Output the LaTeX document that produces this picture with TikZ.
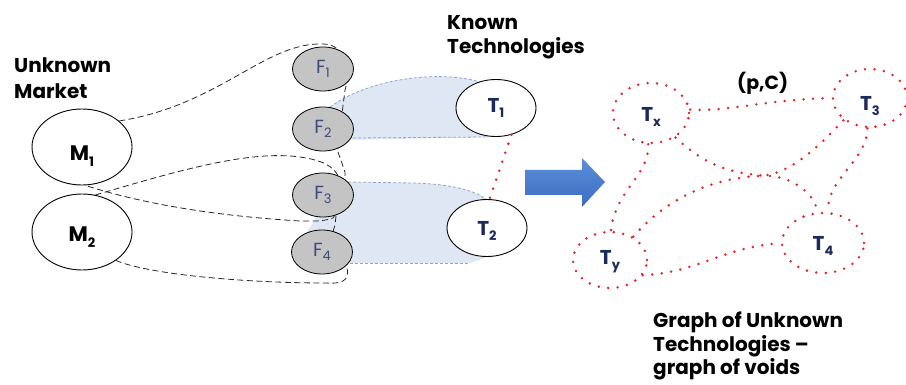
\documentclass[tikz,border=0pt]{standalone}
\usepackage{fontspec}
\setmainfont{Poppins}
\usetikzlibrary{shapes.geometric}
\definecolor{lanefill}{HTML}{DFE7F4}
\definecolor{laneline}{HTML}{8EA6CF}
\definecolor{fgray}{HTML}{C4C4C4}
\definecolor{ftext}{HTML}{3C4A7D}
\definecolor{tnavy}{HTML}{1B2A5C}
\definecolor{dotred}{HTML}{E3262B}
\definecolor{arrowtop}{HTML}{5B8FDB}
\definecolor{arrowbot}{HTML}{3C6CBF}
\newcommand\lsub[1]{\raisebox{-0.45ex}{\fontsize{13}{13}\selectfont #1}}
\newcommand\labdown[2]{\raisebox{-#1}[\height][\depth]{#2}}
\begin{document}
\begin{tikzpicture}[x=1pt,y=-1pt,
  mnode/.style={ellipse, draw, line width=0.9pt, fill=white, minimum width=100pt, minimum height=76pt, inner sep=0pt, font=\fontsize{21}{22}\selectfont\bfseries},
  fnode/.style={ellipse, draw, line width=0.8pt, fill=fgray, minimum width=61pt, minimum height=44pt, inner sep=0pt, text=ftext, font=\fontsize{19}{20}\selectfont},
  tnode/.style={ellipse, draw, line width=0.9pt, fill=white, minimum width=80pt, minimum height=57pt, inner sep=0pt, text=tnavy, font=\fontsize{20}{22}\selectfont\bfseries},
  reddot/.style={draw=dotred, line width=2.8pt, line cap=round, dash pattern=on 0pt off 9.5pt},
  vnode/.style={ellipse, reddot, inner sep=0pt, text=tnavy, font=\fontsize{20}{22}\selectfont\bfseries},
  mk/.style={draw=black!85, line width=0.8pt, dash pattern=on 6pt off 3.5pt},
  lane/.style={draw=laneline, line width=0.8pt, dash pattern=on 3pt off 2pt},
  title/.style={align=left, inner sep=0pt, anchor=north west}
]
\useasboundingbox (0,0) rectangle (906,385);

% lanes (background)
\fill[lanefill] (330,107) .. controls (370,78) and (440,70) .. (480,82) -- (496,137) -- (340,140) -- cycle;
\draw[lane] (330,107) .. controls (370,78) and (440,70) .. (480,82);
\draw[lane] (353,138) -- (488,137);
\fill[lanefill] (340,182) -- (413,183) .. controls (450,184) and (475,190) .. (487,200) -- (487,257) -- (470,263) -- (340,263) -- (305,235) -- cycle;
\draw[lane] (348,182) -- (413,183) .. controls (450,184) and (475,190) .. (487,200);
\draw[lane] (350,263) -- (470,263);

\node[mnode] (M1) at (82,147) {\labdown{9pt}{M\lsub{1}}};
\node[mnode] (M2) at (82,232) {\labdown{5pt}{M\lsub{2}}};

% market loops
\draw[mk] (M1.35) .. controls (220,105) and (265,42) .. (323,44) .. controls (345,44) and (352,70) .. (345,90) -- (340,130) -- (338,152) -- (345,172) -- (345,200) -- (333,218) .. controls (322,222) and (310,221) .. (300,221) .. controls (200,215) and (130,200) .. (M1.-85);
\draw[mk] (M2.70) .. controls (180,170) and (250,150) .. (300,157) .. controls (320,160) and (335,165) .. (340,180) -- (335,225) -- (332,235) -- (345,255) -- (347,268) .. controls (350,282) and (340,284) .. (325,283) .. controls (250,283) and (150,275) .. (M2.-40);

\node[fnode] (F1) at (323,69) {F\lsub{1}};
\node[fnode] (F2) at (323,129) {F\lsub{2}};
\node[fnode] (F3) at (323,195) {F\lsub{3}};
\node[fnode] (F4) at (322,252) {F\lsub{4}};

\node[tnode] (T1) at (496,108) {T\lsub{1}};
\node[tnode] (T2) at (487,228) {\labdown{3pt}{T\lsub{2}}};
\draw[reddot] (T1.-60) -- (T2.85);

% titles
\node[title, font=\fontsize{20}{26}\selectfont\bfseries] (um) at (14,58) {Unknown\\Market};
\node[title, font=\fontsize{20}{24}\selectfont\bfseries] (kt) at (447,15) {Known\\Technologies};
\node[title, font=\fontsize{20}{23.5}\selectfont\bfseries] (gu) at (653,312) {Graph of Unknown\\Technologies --\\graph of voids};
\node[inner sep=0pt, anchor=base west, font=\fontsize{19}{20}\selectfont\bfseries] (pc) at (737,90) {(p,C)};

% arrow
\shade[top color=arrowtop, bottom color=arrowbot] (525,170) -- (582,170) -- (582,158) -- (605,182) -- (582,207) -- (582,195) -- (525,195) -- cycle;

% graph of voids
\node[vnode, minimum width=76pt, minimum height=60pt] (Tx) at (651,113) {\labdown{4pt}{T\lsub{x}}};
\node[vnode, minimum width=74pt, minimum height=58pt] (T3) at (870,98) {\labdown{8pt}{T\lsub{3}}};
\node[vnode, minimum width=74pt, minimum height=56pt] (Ty) at (610,260) {\labdown{2pt}{T\lsub{y}}};
\node[vnode, minimum width=82pt, minimum height=60pt] (T4) at (823,243) {\labdown{3pt}{T\lsub{4}}};

\draw[reddot] (Tx.5) .. controls (730,112) and (760,100) .. (T3.west);
\draw[reddot] (Tx.-45) .. controls (705,165) and (730,174) .. (770,176) .. controls (795,178) and (815,195) .. (T4.100);
\draw[reddot] (Ty.45) .. controls (665,200) and (710,178) .. (760,176) .. controls (790,174) and (815,150) .. (T3.-140);
\draw[reddot] (T3.-95) .. controls (868,160) and (825,180) .. (T4.80);
\draw[reddot] (Tx.-95) .. controls (650,175) and (615,190) .. (Ty.88);
\draw[reddot] (Ty.-25) .. controls (700,272) and (720,248) .. (T4.180);
\end{tikzpicture}
\end{document}
